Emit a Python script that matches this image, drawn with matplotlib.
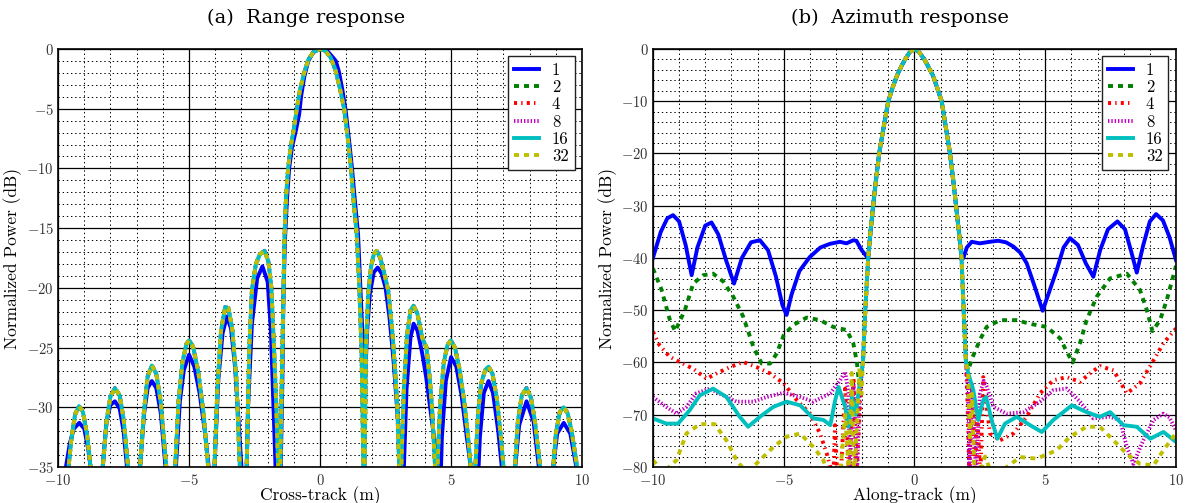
import matplotlib
matplotlib.use("Agg")
from matplotlib import pyplot as plt
from matplotlib.ticker import MultipleLocator

plt.rcParams['font.family'] = ['cmr10']
plt.rcParams['mathtext.fontset'] = 'cm'
plt.rcParams['axes.formatter.use_mathtext'] = True
plt.rcParams['lines.scale_dashes'] = False

labels = ["1", "2", "4", "8", "16", "32"]
colors = [(0, 0, 1), (0, 0.5, 0), (1, 0, 0), (0.75, 0, 0.75), (0, 0.75, 0.75), (0.75, 0.75, 0)]
dash_styles = [None, (3.6, 3.6), (2.2, 3.0, 1.0, 3.0), (1.0, 1.4), None, (3.6, 3.6)]

# ---- (a) range response: series 2..32 overlap, series 1 has lower sidelobes
range_x = [-9.95, -9.75, -9.6, -9.5, -9.35, -9.2, -9.05, -8.9, -8.75, -8.6, -8.52,
           -8.42, -8.3, -8.15, -8.0, -7.83, -7.65, -7.5, -7.33, -7.2, -7.12,
           -7.0, -6.87, -6.72, -6.58, -6.42, -6.25, -6.08, -5.87, -5.77, -5.7,
           -5.62, -5.53, -5.4, -5.25, -5.1, -5.0, -4.85, -4.65, -4.45, -4.27, -4.2, -4.16,
           -4.1, -4.03, -3.92, -3.78, -3.62, -3.5, -3.35, -3.2, -3.06, -3.0, -2.96,
           -2.9, -2.8, -2.7, -2.6, -2.45, -2.3, -2.12, -1.97, -1.86, -1.76, -1.67, -1.6, -1.56,
           -1.52, -1.46, -1.4, -1.36, -1.3, -1.22, -1.12, -1.0, -0.9, -0.78, -0.62, -0.45, -0.25,
           0.0, 0.2, 0.4, 0.58, 0.76, 0.92, 1.06, 1.18, 1.28, 1.4, 1.5, 1.58, 1.62, 1.65, 1.67,
           1.7, 1.75, 1.84, 1.95, 2.05, 2.16, 2.3, 2.45, 2.6, 2.75, 2.85, 2.95, 3.02, 3.06,
           3.1, 3.2, 3.32, 3.45, 3.57, 3.72, 3.9, 4.06, 4.18, 4.27, 4.39, 4.43,
           4.48, 4.58, 4.72, 4.86, 4.99, 5.15, 5.32, 5.5, 5.65, 5.75, 5.83,
           5.93, 6.03, 6.15, 6.3, 6.43, 6.58, 6.75, 6.9, 7.0, 7.15,
           7.3, 7.44, 7.55, 7.7, 7.88, 8.05, 8.2, 8.4, 8.6,
           8.75, 8.9, 9.0, 9.15, 9.3, 9.45, 9.6, 9.81, 9.95]
range_y = [-48, -38, -35, -32.8, -30.6, -29.9, -30.4, -32.2, -35.2, -40, -48,
           -40, -35.2, -31.2, -29.1, -28.4, -29.0, -31.0, -35, -40, -48,
           -40, -35, -30.3, -27.4, -26.5, -27.2, -29.6, -35, -40, -48,
           -40, -35, -29.5, -26.2, -24.7, -24.4, -24.9, -27.0, -30.5, -35, -40, -48,
           -40, -35, -28.5, -23.6, -21.6, -21.7, -23.5, -27.5, -35, -40, -48,
           -40, -35, -25, -20.2, -18.0, -17.2, -16.9, -17.8, -20, -25, -30, -35, -45,
           -35, -28, -21, -16, -12.5, -10, -8.2, -6.7, -5.2, -3.6, -2.1, -0.9, -0.25,
           0.0, -0.15, -0.7, -1.7, -3.3, -5.0, -7.5, -10, -12.7, -15.5, -20, -25, -30, -35, -45,
           -35, -25, -20.5, -18.2, -17.2, -16.9, -17.5, -18.8, -20.2, -23.5, -26.5, -30, -35, -45,
           -35, -28.5, -24, -21.9, -21.5, -22.2, -24.2, -25, -27.5, -30, -35, -45,
           -35, -30, -26.3, -24.8, -24.4, -25.0, -26.8, -29.5, -32.5, -35, -45,
           -35, -30.5, -28, -26.9, -26.6, -27.2, -29.3, -32.5, -35, -45,
           -45, -35, -31.2, -29.0, -28.4, -29.2, -31.2, -35, -45,
           -45, -35, -32.2, -30.4, -30.0, -30.5, -32.0, -35, -45]

range1_x = [-9.95, -9.7, -9.55, -9.4, -9.19, -9.0, -8.85, -8.7, -8.55,
            -8.45, -8.3, -8.15, -8.0, -7.83, -7.65, -7.5, -7.35, -7.15,
            -7.0, -6.87, -6.72, -6.58, -6.42, -6.25, -6.08, -5.9, -5.72,
            -5.6, -5.5, -5.35, -5.2, -5.0, -4.8, -4.6, -4.4, -4.25, -4.18,
            -4.1, -4.0, -3.88, -3.72, -3.56, -3.4, -3.25, -3.1, -3.0, -2.94,
            -2.85, -2.75, -2.6, -2.4, -2.2, -2.0, -1.88, -1.78, -1.7, -1.62,
            -1.56, -1.5, -1.44, -1.4, -1.34, -1.26, -1.18, -1.07, -0.92, -0.8, -0.72, -0.6, -0.45, -0.25,
            0.0, 0.25, 0.45, 0.6, 0.72, 0.85, 0.98, 1.1, 1.22, 1.33, 1.45, 1.54, 1.62, 1.72,
            1.8, 1.9, 2.05, 2.2, 2.35, 2.5, 2.65, 2.8, 2.92, 3.0, 3.08, 3.15,
            3.2, 3.3, 3.45, 3.57, 3.72, 3.9, 4.05, 4.2, 4.35, 4.46, 4.5,
            4.55, 4.65, 4.8, 5.0, 5.2, 5.4, 5.6, 5.75, 5.85,
            5.95, 6.1, 6.25, 6.43, 6.6, 6.8, 6.98, 7.15,
            7.3, 7.45, 7.6, 7.88, 8.15, 8.35, 8.6,
            8.75, 8.9, 9.05, 9.3, 9.55, 9.78, 9.95]
range1_y = [-48, -35, -33, -31.8, -31.3, -31.8, -33.5, -36, -48,
            -40, -35, -31.2, -29.8, -29.5, -30.1, -32, -35.5, -48,
            -40, -35, -30.6, -28.4, -27.8, -28.4, -30.5, -35, -48,
            -40, -35, -29.5, -26.9, -25.6, -26.6, -28.8, -32, -35, -48,
            -40, -33.5, -27.6, -23.8, -22.4, -23.4, -26.5, -31.5, -35, -48,
            -40, -30, -23, -19.2, -18.2, -19.5, -23.5, -30, -35, -42,
            -45, -35, -28, -21, -16, -12.5, -10, -8.2, -6.8, -5.5, -3.9, -2.3, -1.0, -0.25,
            0.0, -0.1, -0.6, -1.0, -1.9, -3.4, -5.2, -7.5, -10, -12.7, -15.5, -20, -24, -27.5,
            -23.5, -20.5, -18.7, -18.3, -18.8, -20, -22.5, -26, -29.5, -32, -35, -45,
            -35, -28.5, -24.2, -23.0, -23.6, -25.5, -27.5, -30, -32.5, -35, -45,
            -40, -32.5, -27.8, -25.8, -26.6, -29, -32.5, -35, -45,
            -40, -32.5, -28.8, -27.8, -28.8, -32, -36, -45,
            -45, -35, -31.5, -29.5, -31.2, -35, -45,
            -45, -35, -32.2, -31.3, -32.2, -35, -45]

# ---- (b) azimuth response
az_main_x = [-1.77, -1.68, -1.58, -1.47, -1.35, -1.18, -1.0, -0.83, -0.66, -0.5, -0.36, -0.18, 0.0,
             0.18, 0.38, 0.52, 0.70, 0.86, 1.04, 1.2, 1.36, 1.48, 1.59, 1.70, 1.80]
az_main_y = [-40, -35, -30, -25, -20, -15, -10, -7.3, -5, -3.3, -2, -0.6, 0,
             -0.6, -2, -3.3, -5, -7.3, -10, -15, -20, -25, -30, -35, -40]

az1_left_x = [-10.0, -9.7, -9.45, -9.23, -9.0, -8.75, -8.52, -8.3, -8.0, -7.76, -7.5, -7.2, -6.9,
              -6.6, -6.25, -5.91, -5.6, -5.3, -5.05, -4.89, -4.7, -4.4, -4.0, -3.6, -3.24, -2.85,
              -2.6, -2.34, -2.22, -2.02, -1.83]
az1_left_y = [-40.0, -35.0, -32.4, -31.8, -33.0, -37.5, -43.3, -38.0, -33.8, -33.2, -35.5, -40.5, -44.9,
              -40.0, -37.0, -36.6, -38.5, -43.5, -49.0, -50.9, -47.0, -42.5, -39.8, -38.0, -37.3, -36.9,
              -37.2, -36.6, -36.7, -38.5, -39.7]
az1_right_x = [1.87, 2.0, 2.19, 2.5, 2.88, 3.2, 3.5, 3.78, 4.05, 4.29, 4.6, 4.9, 5.15, 5.44, 5.7, 5.95,
               6.25, 6.55, 6.84, 7.1, 7.4, 7.76, 8.05, 8.3, 8.5, 8.75, 9.0, 9.24, 9.5, 9.75, 10.0]
az1_right_y = [-40.0, -38.0, -36.9, -37.2, -36.9, -36.7, -37.0, -37.8, -39.0, -41.0, -45.5, -50.1, -46.5, -42.3, -38.0, -36.2,
               -37.5, -41.0, -43.6, -38.5, -34.5, -33.0, -34.5, -39.0, -42.8, -37.5, -33.0, -31.6, -32.8, -36.0, -40.4]

az2_left_x = [-10.0, -9.67, -9.35, -9.15, -8.78, -8.46, -8.08, -7.7, -7.31, -6.93, -6.55, -6.16, -5.84,
              -5.52, -5.27, -5.0, -4.63, -4.12, -3.61, -3.1, -2.59, -2.34, -2.2, -2.12, -2.05, -1.97, -1.88]
az2_left_y = [-42.0, -46.1, -51.9, -54.0, -50.0, -44.9, -43.3, -43.0, -44.5, -47.4, -51.2, -57.0, -60.2,
              -60.2, -58.3, -54.8, -52.8, -51.4, -51.9, -53.2, -53.8, -56.3, -60.0, -64.0, -62.0, -60.0, -50.0]
az2_right_x = [1.88, 1.97, 2.05, 2.12, 2.22, 2.35, 2.5, 2.76, 3.27, 3.9, 4.42, 5.06, 5.57, 5.82, 6.05,
               6.33, 6.58, 6.97, 7.48, 8.12, 8.62, 8.88, 9.1, 9.39, 9.65, 10.0]
az2_right_y = [-50.0, -60.0, -61.5, -60.5, -59.0, -57.5, -55.7, -53.2, -51.9, -51.9, -52.6, -53.2, -55.4, -57.9, -60.0,
               -56.3, -51.9, -47.4, -43.9, -43.0, -46.1, -49.9, -54.0, -51.9, -48.0, -41.5]

az4_left_x = [-10.0, -9.75, -9.36, -8.98, -8.46, -7.95, -7.57, -7.06, -6.55, -6.03, -5.52, -5.0, -4.5,
              -3.99, -3.61, -3.35, -3.22, -3.1, -3.04, -2.95, -2.8, -2.65, -2.5, -2.4, -2.33, -2.22,
              -2.1, -2.03, -1.97, -1.88]
az4_left_y = [-54.1, -56.7, -58.9, -59.9, -61.2, -63.1, -62.1, -60.9, -59.9, -60.9, -62.1, -64.0, -67.2,
              -69.8, -73.6, -77.5, -80.0, -82.0, -72.0, -82.0, -80.0, -65.0, -82.0, -70.0, -63.0, -82.0,
              -70.0, -62.0, -60.0, -50.0]
az4_right_x = [1.88, 1.97, 2.03, 2.1, 2.2, 2.3, 2.4, 2.52, 2.63, 2.75, 2.89, 3.27, 3.78, 4.29, 4.8, 5.31, 5.82,
               6.33, 6.71, 7.09, 7.61, 8.12, 8.62, 9.14, 9.52, 10.0]
az4_right_y = [-50.0, -60.0, -68.0, -82.0, -64.0, -82.0, -70.0, -82.0, -62.8, -68.0, -73.6, -74.9, -73.6, -70.4, -65.9, -63.4, -62.8,
               -63.7, -62.1, -60.7, -61.5, -65.9, -64.0, -59.6, -56.3, -53.5]

az8_left_x = [-10.0, -9.49, -9.1, -8.72, -8.34, -7.82, -7.31, -6.8, -6.16, -5.65, -5.0, -4.37, -3.86,
              -3.22, -2.84, -2.65, -2.52, -2.46, -2.4, -2.33, -2.25, -2.2, -2.1, -2.03, -1.97, -1.88]
az8_left_y = [-66.6, -68.5, -69.8, -68.5, -65.9, -65.0, -66.3, -67.5, -67.5, -66.6, -65.8, -66.6, -67.5,
              -65.9, -63.4, -61.8, -65.9, -82.0, -70.0, -64.0, -75.0, -82.0, -66.0, -63.0, -60.0, -50.0]
az8_right_x = [1.88, 1.97, 2.05, 2.1, 2.2, 2.28, 2.35, 2.5, 2.65, 2.76, 3.02, 3.53, 4.16, 4.8, 5.31, 5.82,
               6.33, 6.84, 7.48, 7.86, 8.12, 8.37, 8.75, 9.14, 9.52, 9.75, 10.0]
az8_right_y = [-50.0, -60.0, -66.0, -82.0, -64.0, -72.0, -82.0, -66.0, -63.5, -64.6, -68.5, -69.8, -69.5, -67.5, -65.3, -65.0,
               -67.5, -70.7, -70.4, -71.0, -76.2, -79.4, -74.9, -71.0, -69.8, -70.5, -73.0]

az16_left_x = [-10.0, -9.49, -9.04, -8.59, -8.21, -7.7, -7.19, -6.68, -6.36, -5.91, -5.4, -4.89, -4.37,
               -3.86, -3.48, -3.22, -3.03, -2.9, -2.65, -2.52, -2.39, -2.25, -2.12, -2.03, -1.97, -1.88]
az16_left_y = [-70.7, -71.7, -71.7, -69.1, -66.3, -65.0, -66.6, -70.4, -72.3, -70.4, -68.5, -67.5, -68.2,
               -70.7, -71.0, -72.0, -67.2, -64.7, -68.5, -72.3, -66.6, -70.0, -65.0, -62.0, -60.0, -50.0]
az16_right_x = [1.88, 1.97, 2.06, 2.25, 2.44, 2.63, 2.74, 2.95, 3.17, 3.46, 3.91, 4.42, 4.87, 5.31, 6.02,
                6.58, 7.09, 7.48, 7.99, 8.5, 9.01, 9.52, 10.0]
az16_right_y = [-50.0, -60.0, -62.1, -65.3, -71.0, -67.2, -66.6, -71.0, -74.6, -71.7, -70.4, -72.0, -73.3, -71.0, -68.2,
                -69.5, -70.4, -69.5, -72.0, -72.3, -74.6, -73.3, -75.2]

az32_left_x = [-10.0, -9.6, -9.1, -8.72, -8.21, -7.64, -7.19, -6.8, -6.55, -6.23, -5.91, -5.4, -4.89,
               -4.37, -3.86, -3.48, -3.3, -2.85, -2.65, -2.5, -2.4, -2.3, -2.2, -2.1, -2.03, -1.97, -1.88]
az32_left_y = [-78.7, -81.0, -78.7, -73.6, -71.8, -71.8, -74.9, -78.7, -80.3, -80.3, -78.7, -76.2, -74.2,
               -73.6, -76.2, -78.7, -82.0, -82.0, -70.0, -82.0, -62.0, -82.0, -72.0, -61.0, -66.0, -60.0, -50.0]
az32_right_x = [1.88, 1.97, 2.05, 2.12, 2.2, 2.3, 2.45, 2.7, 3.0, 3.53, 4.04, 4.67, 5.44, 5.95, 6.58,
                7.09, 7.61, 8.12, 8.62, 9.14, 9.52, 9.9, 10.0]
az32_right_y = [-50.0, -60.0, -62.0, -75.0, -66.0, -82.0, -82.0, -78.0, -82.0, -80.0, -78.1, -78.4, -76.8, -74.2, -72.3,
                -72.3, -74.9, -77.5, -79.4, -79.7, -76.8, -74.2, -73.5]

az_left_x = [az1_left_x, az2_left_x, az4_left_x, az8_left_x, az16_left_x, az32_left_x]
az_left_y = [az1_left_y, az2_left_y, az4_left_y, az8_left_y, az16_left_y, az32_left_y]
az_right_x = [az1_right_x, az2_right_x, az4_right_x, az8_right_x, az16_right_x, az32_right_x]
az_right_y = [az1_right_y, az2_right_y, az4_right_y, az8_right_y, az16_right_y, az32_right_y]


def style_line(line, k):
    if dash_styles[k] is not None:
        line.set_dashes(dash_styles[k])


def style_axes(ax, ymin, ymaj, ymin_step):
    ax.set_xlim(-10, 10)
    ax.set_ylim(ymin, 0)
    ax.xaxis.set_major_locator(MultipleLocator(5))
    ax.xaxis.set_minor_locator(MultipleLocator(1))
    ax.yaxis.set_major_locator(MultipleLocator(ymaj))
    ax.yaxis.set_minor_locator(MultipleLocator(ymin_step))
    ax.grid(True, which='major', color='black', linestyle='-', linewidth=0.9)
    ax.grid(True, which='minor', color='black', linestyle=(0, (1, 2)), linewidth=0.7)
    ax.set_axisbelow(True)
    ax.tick_params(which='both', direction='in', top=True, right=True, length=0,
                   labelsize=10.5, labelcolor='#333333')
    ax.tick_params(axis='x', pad=4)
    ax.tick_params(axis='y', pad=3)
    for s in ax.spines.values():
        s.set_linewidth(1.2)
    ax.set_ylabel("Normalized Power (dB)", fontsize=12.5, labelpad=3)
    leg = ax.legend(loc='upper right', fontsize=12, handlelength=1.5, labelspacing=0.12,
                    borderpad=0.35, handletextpad=0.8, fancybox=False, framealpha=1,
                    edgecolor='#222222', borderaxespad=0.45)
    leg.get_frame().set_linewidth(1.0)


fig = plt.figure(figsize=(11.85, 5.03), dpi=100)
ax1 = fig.add_axes([0.049, 0.0716, 0.4422, 0.831])
ax2 = fig.add_axes([0.551, 0.0716, 0.4414, 0.831])

lw = 2.8
for k, lab in enumerate(labels):
    if k == 0:
        xs, ys = range1_x, range1_y
    else:
        xs, ys = range_x, range_y
    ln, = ax1.plot(xs, ys, color=colors[k], linewidth=lw, label=lab)
    style_line(ln, k)

for k, lab in enumerate(labels):
    xs = az_left_x[k] + az_main_x + az_right_x[k]
    ys = az_left_y[k] + az_main_y + az_right_y[k]
    ln, = ax2.plot(xs, ys, color=colors[k], linewidth=lw, label=lab)
    style_line(ln, k)

style_axes(ax1, -35, 5, 1)
style_axes(ax2, -80, 10, 2)
ax1.set_xlabel("Cross-track (m)", fontsize=12.5, labelpad=-1)
ax2.set_xlabel("Along-track (m)", fontsize=12.5, labelpad=-1)

ax1.set_title("(a)  Range response", family='DejaVu Serif', fontsize=14, pad=19, x=0.473)
ax2.set_title("(b)  Azimuth response", family='DejaVu Serif', fontsize=14, pad=19, x=0.473)

plt.savefig("out.png", dpi=100)
plt.close()
